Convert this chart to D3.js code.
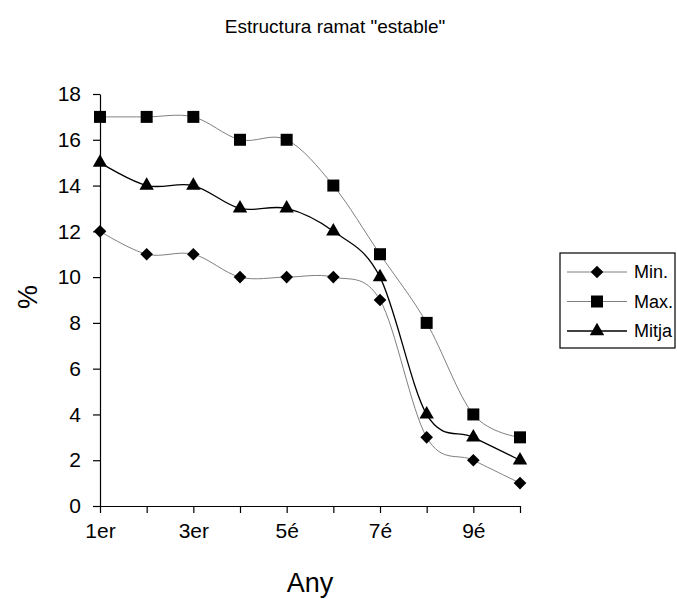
<!DOCTYPE html>
<html>
<head>
<meta charset="utf-8">
<script src="https://cdn.jsdelivr.net/npm/d3@7"></script>
<style>
  body { margin: 0; background: #fff; }
  text { font-family: "Liberation Sans", Arial, sans-serif; }
</style>
</head>
<body>
<svg id="chart"></svg>
<script>
const categories = ['1er', '2n', '3er', '4t', '5é', '6é', '7é', '8é', '9é', '10é'];
const shownLabels = ['1er', '3er', '5é', '7é', '9é'];
const minValues = [12, 11, 11, 10, 10, 10, 9, 3, 2, 1];
const maxValues = [17, 17, 17, 16, 16, 14, 11, 8, 4, 3];
const mitjaValues = [15, 14, 14, 13, 13, 12, 10, 4, 3, 2];
const yTicks = [0, 2, 4, 6, 8, 10, 12, 14, 16, 18];

const width = 677;
const height = 599;

// square rotated 45deg, like the excel marker
const diamond = {
  draw(ctx, size) {
    const r = Math.sqrt(size / 2);
    ctx.moveTo(0, -r);
    ctx.lineTo(r, 0);
    ctx.lineTo(0, r);
    ctx.lineTo(-r, 0);
    ctx.closePath();
  }
};

const series = [
  { name: 'Min.', values: minValues, color: '#808080', lw: 1, symbol: diamond, size: 80 },
  { name: 'Max.', values: maxValues, color: '#808080', lw: 1, symbol: d3.symbolSquare, size: 144 },
  { name: 'Mitja', values: mitjaValues, color: '#000', lw: 1.3, symbol: d3.symbolTriangle, size: 90 }
];

const svg = d3.select('#chart').attr('width', width).attr('height', height);

/* Scales */
const x = d3.scalePoint().domain(categories).range([100, 520]);
const y = d3.scaleLinear().domain([0, 18]).range([506, 94]);

/* Axes */
const xAxis = d3.axisBottom(x)
  .tickSizeInner(7)
  .tickSizeOuter(0)
  .tickPadding(10)
  .tickFormat((d) => (shownLabels.includes(d) ? d : ''));

const yAxis = d3.axisLeft(y)
  .tickValues(yTicks)
  .tickSizeInner(7)
  .tickSizeOuter(0)
  .tickPadding(12);

const gx = svg.append('g').attr('transform', `translate(0, ${y(0)})`).call(xAxis);
const gy = svg.append('g').attr('transform', `translate(${x(categories[0])}, 0)`).call(yAxis);

[gx, gy].forEach((g) => {
  g.selectAll('path, line').attr('stroke', '#000').attr('stroke-width', 1.2);
  g.selectAll('text').attr('fill', '#000').style('font-size', '21px');
});

/* Lines */
const line = d3.line()
  .x((d, i) => x(categories[i]))
  .y((d) => y(d))
  .curve(d3.curveCardinal.tension(0));

series.forEach((s) => {
  svg.append('path')
    .attr('fill', 'none')
    .attr('stroke', s.color)
    .attr('stroke-width', s.lw)
    .attr('d', line(s.values));
});

series.forEach((s) => {
  svg.append('g')
    .selectAll('path')
    .data(s.values)
    .enter()
    .append('path')
    .attr('transform', (d, i) => `translate(${x(categories[i])}, ${y(d)})`)
    .attr('d', d3.symbol().type(s.symbol).size(s.size))
    .attr('fill', '#000');
});

/* Titles */
svg.append('text')
  .attr('x', 335)
  .attr('y', 33)
  .attr('text-anchor', 'middle')
  .style('font-size', '19px')
  .text('Estructura ramat "estable"');

svg.append('text')
  .attr('x', 310)
  .attr('y', 592)
  .attr('text-anchor', 'middle')
  .style('font-size', '27px')
  .text('Any');

svg.append('text')
  .attr('transform', 'translate(37, 297) rotate(-90)')
  .attr('text-anchor', 'middle')
  .style('font-size', '27px')
  .text('%');

/* Legend */
const legend = svg.append('g');
legend.append('rect')
  .attr('x', 560)
  .attr('y', 253)
  .attr('width', 115)
  .attr('height', 95)
  .attr('fill', '#fff')
  .attr('stroke', '#000')
  .attr('stroke-width', 1.2);

const rowY = d3.scalePoint().domain(series.map((s) => s.name)).range([272, 331]);

series.forEach((s) => {
  const ly = rowY(s.name);
  legend.append('line')
    .attr('x1', 567).attr('x2', 627)
    .attr('y1', ly).attr('y2', ly)
    .attr('stroke', s.color)
    .attr('stroke-width', s.lw);
  legend.append('path')
    .attr('transform', `translate(597, ${ly})`)
    .attr('d', d3.symbol().type(s.symbol).size(s.size))
    .attr('fill', '#000');
  legend.append('text')
    .attr('x', 634)
    .attr('y', ly)
    .attr('dy', '0.35em')
    .style('font-size', '18px')
    .text(s.name);
});
</script>
</body>
</html>
